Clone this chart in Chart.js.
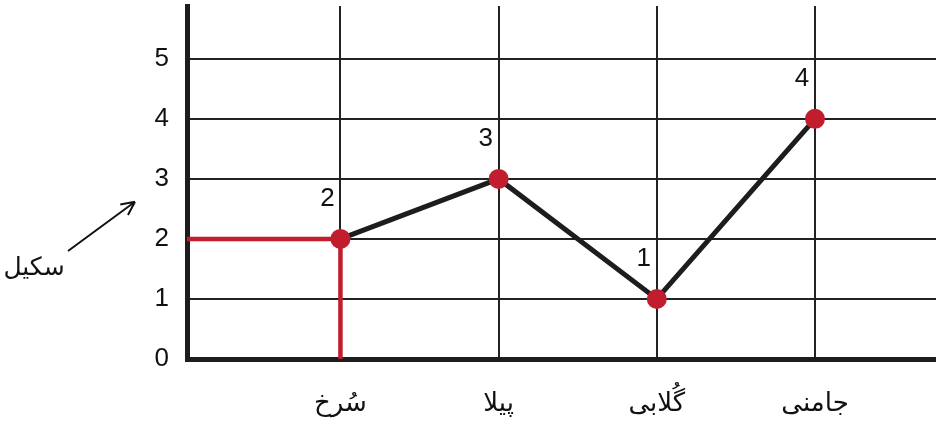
<!DOCTYPE html>
<html>
<head>
<meta charset="utf-8">
<script src="https://cdn.jsdelivr.net/npm/chart.js@4.4.0/dist/chart.umd.min.js"></script>
<style>
    html, body { margin: 0; padding: 0; background: #fff; }
</style>
</head>
<body>
<canvas id="chart" width="936" height="429"></canvas>
<script>
// colour names along the bottom, counts for each, and the scale on the left
const colourNames = ["سُرخ", "پیلا", "گُلابی", "جامنی"];
const colourCounts = [2, 3, 1, 4];
const scaleTicks = [0, 1, 2, 3, 4, 5];
const scaleLabel = "سکیل";

const ink = "#1d1d1d";
const red = "#c21d2f";

// main line: one point per colour
const linePoints = colourCounts.map((v, i) => ({ x: i + 1, y: v }));
// red reading line for the first colour: from the scale across, then down
const guidePoints = [
    { x: 0, y: colourCounts[0] },
    { x: 1, y: colourCounts[0] },
    { x: 1, y: 0 }
];

// numbers written above each point
const pointLabels = {
    id: "pointLabels",
    afterDatasetsDraw(chart) {
        const ctx = chart.ctx;
        const meta = chart.getDatasetMeta(0);
        ctx.save();
        ctx.font = '26px "Liberation Sans", sans-serif';
        ctx.fillStyle = "#111";
        ctx.textAlign = "center";
        ctx.textBaseline = "middle";
        meta.data.forEach((pt, i) => {
            ctx.fillText(String(colourCounts[i]), pt.x - 13, pt.y - 40);
        });
        ctx.restore();
    }
};

// "سکیل" with an arrow pointing at the scale
const scaleNote = {
    id: "scaleNote",
    afterDraw(chart) {
        const ctx = chart.ctx;
        const y = chart.scales.y;
        const left = chart.chartArea.left;
        const tipX = left - 52, tipY = y.getPixelForValue(2.62);
        const tailX = left - 119, tailY = y.getPixelForValue(1.8);
        ctx.save();
        ctx.strokeStyle = "#111";
        ctx.lineWidth = 2;
        ctx.beginPath();
        ctx.moveTo(tailX, tailY);
        ctx.lineTo(tipX, tipY);
        const ang = Math.atan2(tipY - tailY, tipX - tailX);
        [0.45, -0.45].forEach(a => {
            ctx.moveTo(tipX, tipY);
            ctx.lineTo(tipX - 15 * Math.cos(ang + a), tipY - 15 * Math.sin(ang + a));
        });
        ctx.stroke();
        ctx.font = '25px "DejaVu Sans", sans-serif';
        ctx.fillStyle = "#111";
        ctx.textAlign = "center";
        ctx.textBaseline = "middle";
        ctx.fillText(scaleLabel, left - 153, y.getPixelForValue(1.5));
        ctx.restore();
    }
};

new Chart(document.getElementById("chart"), {
    type: "line",
    data: {
        datasets: [
            {
                data: linePoints,
                borderColor: ink,
                borderWidth: 5,
                pointRadius: 10,
                pointBackgroundColor: red,
                pointBorderWidth: 0,
                tension: 0
            },
            {
                data: guidePoints,
                borderColor: red,
                borderWidth: 4.5,
                pointRadius: 0,
                tension: 0
            }
        ]
    },
    options: {
        responsive: false,
        animation: false,
        events: [],
        layout: { autoPadding: false, padding: { top: 6, right: 0, left: 0, bottom: 0 } },
        plugins: {
            legend: { display: false },
            tooltip: { enabled: false }
        },
        scales: {
            x: {
                type: "linear",
                min: 0.03,
                max: 4.765,
                afterBuildTicks: s => { s.ticks = colourNames.map((_, i) => ({ value: i + 1 })); },
                afterFit: s => { s.height = 70; s.paddingLeft = 0; s.paddingRight = 0; },
                ticks: {
                    callback: v => colourNames[v - 1],
                    color: "#111",
                    font: { family: '"DejaVu Sans", sans-serif', size: 26 },
                    padding: 30,
                    maxRotation: 0
                },
                grid: { color: "#222", lineWidth: 2, drawTicks: false },
                border: { color: ink, width: 5 }
            },
            y: {
                min: 0,
                max: 5.88,
                afterBuildTicks: s => { s.ticks = scaleTicks.map(v => ({ value: v })); },
                afterFit: s => { s.width = 187; s.paddingTop = 0; s.paddingBottom = 0; },
                ticks: {
                    color: "#111",
                    font: { family: '"Liberation Sans", sans-serif', size: 26 },
                    padding: 18
                },
                grid: { color: "#222", lineWidth: 2, drawTicks: false },
                border: { color: ink, width: 5 }
            }
        }
    },
    plugins: [pointLabels, scaleNote]
});
</script>
</body>
</html>
